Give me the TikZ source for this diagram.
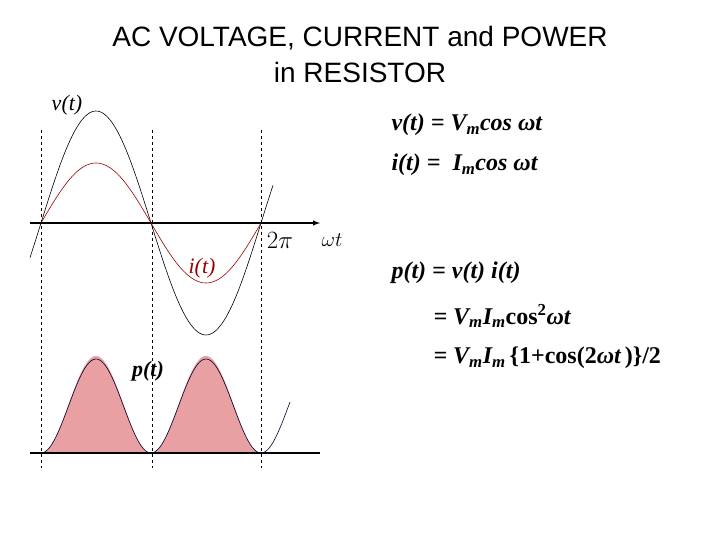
\documentclass[tikz,border=0pt]{standalone}
\usepackage{fontspec}
\setmainfont{Liberation Serif}
\newfontfamily\arial{Liberation Sans}
\definecolor{pfill}{RGB}{232,160,162}
\begin{document}
\begin{tikzpicture}[x=1pt,y=-1pt,
  ttl/.style={font=\arial\fontsize{28}{32}\selectfont},
  eq/.style={font=\bfseries\itshape\fontsize{24}{28}\selectfont,anchor=west},
  lbl/.style={font=\itshape\fontsize{22}{26}\selectfont},
  vdash/.style={dashed,line width=0.6pt}]
\useasboundingbox (0,0) rectangle (720,540);
\node[ttl] (t1) at (360,38) {AC VOLTAGE, CURRENT and POWER};
\node[ttl] (t2) at (360,72) {in RESISTOR};
% fill of power
\fill[pfill] plot[domain=41:151,samples=60] (\x,{453-97*sin(deg(pi*(\x-41)/110))^2}) -- cycle;
\fill[pfill] plot[domain=151:261,samples=60] (\x,{453-97*sin(deg(pi*(\x-151)/110))^2}) -- cycle;
% dashed verticals
\foreach \xx in {41,152,261} \draw[vdash] (\xx,130) -- (\xx,468);
% axes
\draw[line width=1.4pt,-latex] (30,223) -- (320,223);
\draw[line width=1.4pt] (30,453) -- (320,453);
% curves
\draw[line width=0.6pt] plot[domain=30:273,samples=120] (\x,{223-112*sin(deg(2*pi*(\x-41)/220))});
\draw[line width=0.6pt,red!60!black] plot[domain=41:261,samples=100] (\x,{223-60*sin(deg(2*pi*(\x-41)/220))});
\draw[line width=0.6pt,black!80!blue] plot[domain=41:290,samples=120] (\x,{453-94*sin(deg(pi*(\x-41)/110))^2});
% labels
\node[lbl] (lv) at (67,105) {v(t)};
\node[lbl,red!60!black] (li) at (202,268) {i(t)};
\node[font=\fontsize{24}{28}\selectfont] (l2p) at (280,240) {$2\pi$};
\node[font=\fontsize{22}{26}\selectfont] (lwt) at (332,240) {$\omega t$};
\node[font=\bfseries\itshape\fontsize{22}{26}\selectfont] (lp) at (148,371) {p(t)};
% equations
\node[eq] (e1) at (388,125) {v(t) = V\textsubscript{m}cos ωt};
\node[eq] (e2) at (388,165) {i(t) = \ I\textsubscript{m}cos ωt};
\node[eq] (e3) at (388,273) {p(t) = v(t) i(t)};
\node[eq] (e4) at (430,316) {= V\textsubscript{m}I\textsubscript{m}\upshape cos\textsuperscript{2}\itshape ωt};
\node[eq] (e5) at (430,358) {= V\textsubscript{m}I\textsubscript{m}\,\upshape\{1+cos(2\itshape ωt\upshape\,)\}/2};
\end{tikzpicture}
\end{document}
